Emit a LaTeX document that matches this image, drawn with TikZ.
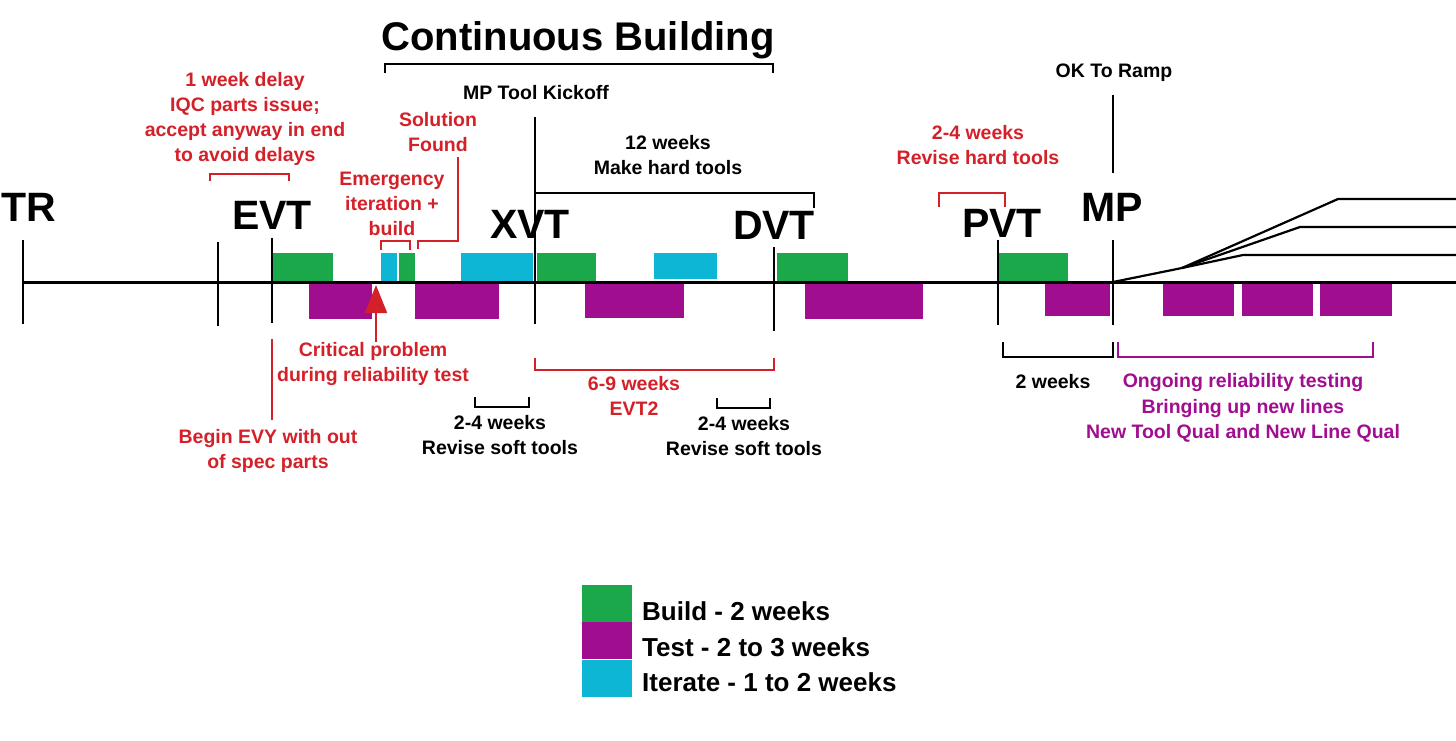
\documentclass[tikz,border=0pt]{standalone}
\usepackage{fontspec}
\setmainfont{Liberation Sans}
\usepackage{tikz}
\usetikzlibrary{positioning}
\usetikzlibrary{arrows.meta}

\definecolor{buildgreen}{RGB}{27,168,74}
\definecolor{testpurple}{RGB}{160,14,143}
\definecolor{iterblue}{RGB}{12,182,212}
\definecolor{notered}{RGB}{212,32,40}

\begin{document}
\begin{tikzpicture}[x=1pt,y=-1pt]
\useasboundingbox (0,0) rectangle (1456,741);

\tikzstyle{phase}=[font=\fontsize{41}{41}\selectfont\bfseries,inner sep=0pt]
\tikzstyle{note}=[font=\fontsize{19.5}{25.3}\selectfont\bfseries,align=center,inner sep=0pt]
\tikzstyle{rednote}=[note,text=notered]
\tikzstyle{bracket}=[line width=2.2pt]
\tikzstyle{redbracket}=[line width=1.7pt,draw=notered]
\tikzstyle{tick}=[line width=2.5pt]
\tikzstyle{key}=[inner sep=0pt,minimum width=50pt,minimum height=37pt]
\tikzstyle{keytext}=[font=\fontsize{26}{26}\selectfont\bfseries,inner sep=0pt,anchor=west]

   %blocks
\fill[buildgreen] (273,253) rectangle (333,281);
\fill[buildgreen] (399,253) rectangle (415,281);
\fill[buildgreen] (537,253) rectangle (596,281);
\fill[buildgreen] (777,253) rectangle (848,281);
\fill[buildgreen] (998,253) rectangle (1068,281);
\fill[iterblue] (381,253) rectangle (397,281);
\fill[iterblue] (461,253) rectangle (533,281);
\fill[iterblue] (654,253) rectangle (717,279);
\fill[testpurple] (309,284) rectangle (372,319);
\fill[testpurple] (415,284) rectangle (499,319);
\fill[testpurple] (585,283) rectangle (684,318);
\fill[testpurple] (805,284) rectangle (923,319);
\fill[testpurple] (1045,283) rectangle (1110,316);
\fill[testpurple] (1163,283) rectangle (1234,316);
\fill[testpurple] (1242,283) rectangle (1313,316);
\fill[testpurple] (1320,283) rectangle (1392,316);

   %timeline and milestones
\coordinate (origo) at (23,282);
\draw[line width=3pt] (origo) -- (1456,282);
\draw[tick] (23,240) -- (23,324);
\draw[tick] (218,242) -- (218,326);
\draw[tick] (272,238) -- (272,323);
\draw[tick] (535,117) -- (535,324);
\draw[tick] (774,247) -- (774,331);
\draw[tick] (998,240) -- (998,325);
\draw[tick] (1113,95) -- (1113,173);
\draw[tick] (1113,240) -- (1113,325);

\node (TR) [phase] at (29,207) {TR};
\node (EVT) [phase] at (272,215) {EVT};
\node (XVT) [phase] at (530,224) {XVT};
\node (DVT) [phase] at (774,225) {DVT};
\node (PVT) [phase] at (1002,223) {PVT};
\node (MP) [phase] at (1112,207) {MP};

   %ramp
\coordinate (ramp) at (1182,268);
\draw[line width=2.2pt] (1113,282) -- (ramp) -- (1338,199) -- (1456,199);
\draw[line width=2.2pt] (ramp) -- (1300,227) -- (1456,227);
\draw[line width=2.2pt] (ramp) -- (1243,255) -- (1456,255);

   %top notes
\node (cont) [font=\fontsize{40}{40}\selectfont\bfseries,inner sep=0pt] at (578,40) {Continuous Building};
\draw[bracket] (385,73) -- (385,64) -- (773,64) -- (773,73);
\node (kickoff) [note] at (536,93) {MP Tool Kickoff};
\node (hard) [note] at (668,155) {12 weeks\\Make hard tools};
\draw[bracket] (535,193) -- (814,193) -- (814,208);
\node (ramp_label) [note] at (1114,73) {OK To Ramp};

\node (delay) [rednote] at (245,119) {1 week delay\\IQC parts issue;\\accept anyway in end\\to avoid delays};
\draw[redbracket] (210,181) -- (210,174) -- (289,174) -- (289,181);
\node (emerg) [rednote] at (392,204) {Emergency\\iteration +\\build};
\draw[redbracket] (381,250) -- (381,241) -- (410,241) -- (410,250);
\node (sol) [rednote] at (438,132) {Solution\\Found};
\draw[redbracket] (458,157) -- (458,241) -- (418,241) -- (418,249);
\node (revhard) [rednote] at (978,145) {2-4 weeks\\Revise hard tools};
\draw[redbracket] (939,207) -- (939,193) -- (1005,193) -- (1005,207);

   %bottom notes
\node (crit) [rednote] at (373,364) {Critical problem\\during reliability test};
\coordinate (problem) at (376,285);
\draw[line width=2pt,draw=notered,-{Triangle[width=22pt,length=28pt]}] (376,342) -- (problem);
\node (begin) [rednote] at (268,451) {Begin EVY with out\\of spec parts};
\draw[redbracket] (272,339) -- (272,420);
\node (evt2) [rednote] at (634,396) {6-9 weeks\\EVT2};
\draw[redbracket] (535,358) -- (535,370) -- (774,370) -- (774,358);
\node (soft1) [note] at (500,435) {2-4 weeks\\Revise soft tools};
\draw[bracket] (475,397) -- (475,407) -- (529,407) -- (529,397);
\node (soft2) [note] at (744,436) {2-4 weeks\\Revise soft tools};
\draw[bracket] (717,398) -- (717,408) -- (770,408) -- (770,398);
\node (twowk) [note,anchor=base] at (1053,388) {2 weeks};
\draw[bracket] (1003,342) -- (1003,357) -- (1113,357) -- (1113,342);
\node (ongoing) [note,text=testpurple] at (1243,408) {Ongoing reliability testing\\Bringing up new lines\\New Tool Qual and New Line Qual};
\draw[line width=1.7pt,draw=testpurple] (1118,342) -- (1118,357) -- (1373,357) -- (1373,342);

   %legend
\node (kbuild) [key,fill=buildgreen] at (607,603.5) {};
\node (ktest) [key,fill=testpurple,below=0pt of kbuild] {};
\node (kiter) [key,fill=iterblue,below=0pt of ktest] {};
\node (tbuild) [keytext] at (642,611) {Build - 2 weeks};
\node (ttest) [keytext] at (642,647) {Test - 2 to 3 weeks};
\node (titer) [keytext] at (642,682) {Iterate - 1 to 2 weeks};
\end{tikzpicture}
\end{document}
